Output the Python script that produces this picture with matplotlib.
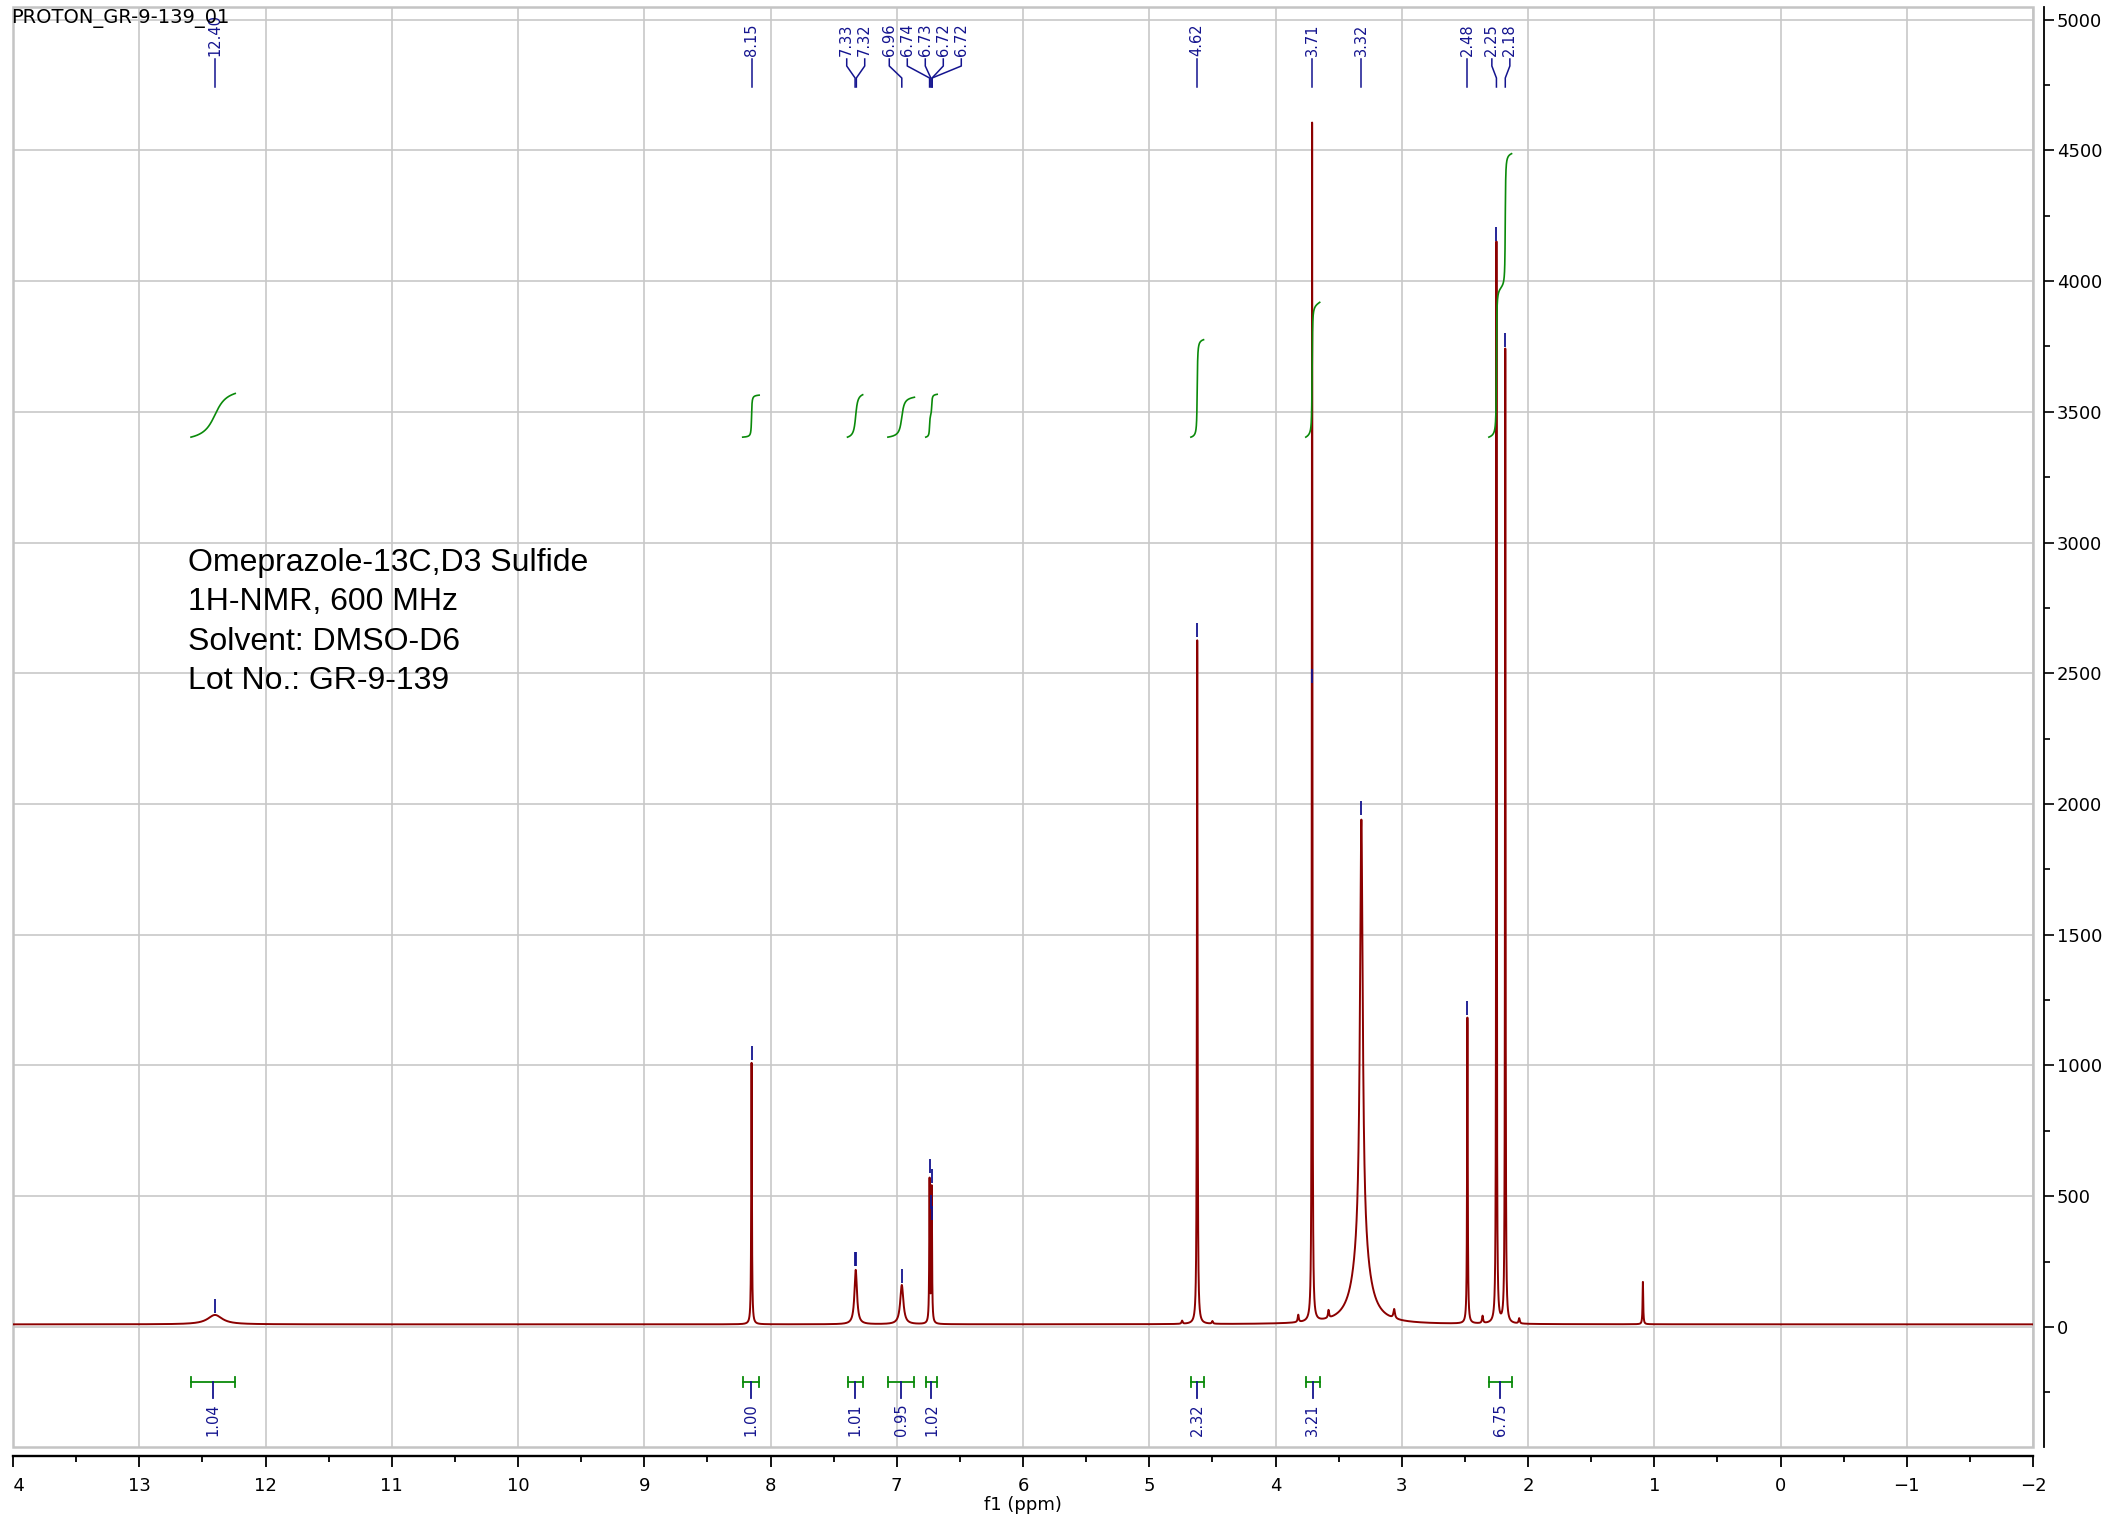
# -*- coding: utf-8 -*-
'''
1H-NMR spectrum of Omeprazole-13C,D3 Sulfide (MestReNova style plot)
'''

# %% load libraries
# -----------------

import numpy as np
import matplotlib
matplotlib.use('Agg')
import matplotlib.pyplot as plt
import matplotlib.patches as patches
from matplotlib.ticker import MultipleLocator


# %% data
# -----------------------------

# peak table: position (ppm), height above baseline, half width at half height (ppm)
peak_ppm = [12.40, 8.15, 7.325, 6.96, 6.74, 6.723, 4.74, 4.62, 4.50, 3.82,
            3.71, 3.58, 3.32, 3.32, 3.06, 2.48, 2.36, 2.25, 2.18, 2.07, 1.09]
peak_height = [36, 1000, 208, 150, 545, 515, 12, 2615, 10, 28,
               4585, 30, 1640, 290, 35, 1170, 28, 4135, 3725, 20, 162]
peak_hwhm = [0.07, 0.003, 0.012, 0.015, 0.003, 0.003, 0.005, 0.003, 0.005, 0.005,
             0.0025, 0.005, 0.013, 0.07, 0.007, 0.003, 0.005, 0.0025, 0.0025, 0.005, 0.003]
baseline_level = 10

# peak picking: labelled shifts and the intensity where each pick mark sits
pick_ppm = [12.40, 8.15, 7.33, 7.32, 6.96, 6.74, 6.73, 6.72, 6.72,
            4.62, 3.71, 3.32, 2.48, 2.25, 2.18]
pick_level = [54, 1021, 233, 233, 168, 589, 451, 551, 409,
              2639, 2463, 1958, 1193, 4153, 3748]

# integrals: region start / end (ppm) and normalised value
int_start = [12.59, 8.22, 7.39, 7.07, 6.77, 4.67, 3.76, 2.31]
int_end = [12.24, 8.09, 7.27, 6.86, 6.68, 4.57, 3.65, 2.13]
int_value = [1.04, 1.00, 1.01, 0.95, 1.02, 2.32, 3.21, 6.75]

title_lines = ['Omeprazole-13C,D3 Sulfide', '1H-NMR, 600 MHz',
               'Solvent: DMSO-D6', 'Lot No.: GR-9-139']
file_name = 'PROTON_GR-9-139_01'

# colours
red = '#8b0000'
blue = '#14148f'
green = '#0a8a0a'
grid_grey = '#c8c8c8'


# %% build the spectrum from the peak table
# -----------------------------------------

ppm = np.linspace(14, -2, 64001)
spec = np.full_like(ppm, baseline_level, dtype=float)
for p, h, w in zip(peak_ppm, peak_height, peak_hwhm):
    spec += h * w**2 / ((ppm - p)**2 + w**2)


# %% plot
# -------

W, H = 2108, 1520
fig = plt.figure(figsize=(W / 100, H / 100), dpi=100)
ax = fig.add_axes([13 / W, 1 - 1447 / H, 2020 / W, 1440 / H])

ax.set_xlim(14, -2)
ax.set_ylim(-459, 5048)

# spectrum
ax.plot(ppm, spec, color=red, lw=1.4, zorder=3)

# pick marks above peaks
ax.vlines(pick_ppm, np.array(pick_level), np.array(pick_level) + 52,
          color=blue, lw=1.3, zorder=4)

# integral curves and brackets
int_base = 3403
per_h = 160.6
for a, b, v in zip(int_start, int_end, int_value):
    m = (ppm <= a) & (ppm >= b)
    cum = np.cumsum(spec[m] - baseline_level)
    cum = cum / cum[-1]
    ax.plot(ppm[m], int_base + v * per_h * cum, color=green, lw=1.2, zorder=4)

    ax.plot([a, b], [-210, -210], color=green, lw=1.3)
    ax.plot([a, a], [-229, -191], color=green, lw=1.3)
    ax.plot([b, b], [-229, -191], color=green, lw=1.3)
    c = (a + b) / 2
    ax.plot([c, c], [-210, -272], color=blue, lw=1.3)
    ax.text(c, -291, f'{v:.2f}', rotation=90, ha='center', va='top',
            color=blue, fontsize=10.5)

# grey frame and grid
ax.add_patch(patches.Rectangle((0, 0), 1, 1, transform=ax.transAxes, fill=False,
                               edgecolor='#c4c4c4', lw=1.8, clip_on=False, zorder=2))
ax.grid(which='major', color=grid_grey, lw=1.2)
ax.set_axisbelow(True)

# axes decoration
ax.xaxis.set_major_locator(MultipleLocator(1))
ax.xaxis.set_minor_locator(MultipleLocator(0.5))
ax.yaxis.set_major_locator(MultipleLocator(500))
ax.yaxis.set_minor_locator(MultipleLocator(250))
ax.yaxis.tick_right()
for s in ['left', 'top']:
    ax.spines[s].set_visible(False)
ax.spines['bottom'].set_position(('outward', 6.5))
ax.spines['bottom'].set_linewidth(1.7)
ax.spines['right'].set_position(('outward', 8))
ax.spines['right'].set_linewidth(1.3)
ax.tick_params(axis='x', which='major', direction='out', length=8, width=1.3,
               labelsize=13, pad=7)
ax.tick_params(axis='x', which='minor', direction='out', length=4.3, width=1.3)
ax.tick_params(axis='y', which='major', direction='out', length=7.2, width=1.2,
               labelsize=13, pad=2)
ax.tick_params(axis='y', which='minor', direction='out', length=4.3, width=1.2)
ax.set_xlabel('f1 (ppm)', fontsize=13)
ax.xaxis.set_label_coords(0.5, -58 / 1440)
ax.xaxis.label.set_va('center')

# the left edge of the export cuts the first tick label
fig.add_artist(patches.Rectangle((0, 1 - 1500 / H), 11.5 / W, 30 / H,
                                 transform=fig.transFigure, color='white', zorder=10))

# peak labels at the top, spread apart so they do not overlap
px = [ax.transData.transform((p, 0))[0] for p in pick_ppm]
gap = 18.0
groups = [[x] for x in px]
while True:
    pos = []
    for g in groups:
        n = len(g)
        pos.append(np.mean(g) + (np.arange(n) - (n - 1) / 2) * gap)
    merged = False
    for i in range(len(groups) - 1):
        if pos[i][-1] + gap > pos[i + 1][0] + 0.01:
            groups[i] = groups[i] + groups[i + 1]
            del groups[i + 1]
            merged = True
            break
    if not merged:
        break
label_x = np.concatenate(pos)

for p, x0, lx in zip(pick_ppm, px, label_x):
    fig.text(lx / W, 1 - 56 / H, f'{p:.2f}', rotation=90, ha='center', va='bottom',
             color=blue, fontsize=10.5)
    xs = np.array([lx, lx, x0, x0]) / W
    ys = 1 - np.array([59, 66, 78, 87]) / H
    fig.add_artist(plt.Line2D(xs, ys, color=blue, lw=1.1, transform=fig.transFigure))

# file name and sample information
fig.text(11 / W, 1 - 9 / H, file_name, ha='left', va='top', fontsize=14)
for i, line in enumerate(title_lines):
    fig.text(188 / W, 1 - (571 + 39.3 * i) / H, line, ha='left', va='baseline',
             fontsize=23, family=['Liberation Sans', 'DejaVu Sans'])

plt.savefig('out.png', dpi=100)
